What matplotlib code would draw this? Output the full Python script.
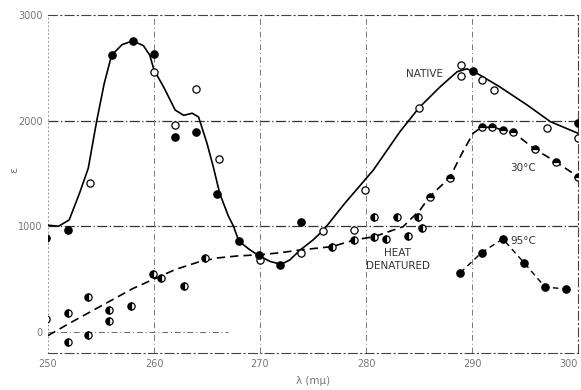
import matplotlib
matplotlib.use("Agg")
import matplotlib.pyplot as plt

# ---- data ----
native_curve_x = [250, 251, 252, 253, 253.8, 254.6, 255.3, 256, 257, 258, 259, 259.6, 260,
                  260.9, 262, 262.8, 263.6, 264.2, 265, 265.6, 266.2, 267, 267.5, 268, 269,
                  270, 271, 272, 272.8, 273.8, 275, 276, 278, 280.7, 283.2, 285, 287, 288.6,
                  289.5, 290.1, 292.6, 295.2, 297.4, 300]
native_curve_y = [1010, 1000, 1060, 1320, 1550, 2000, 2350, 2620, 2720, 2755, 2710, 2620, 2480,
                  2320, 2100, 2050, 2070, 2035, 1785, 1560, 1310, 1100, 1000, 860, 780,
                  715, 665, 640, 680, 776, 870, 965, 1217, 1533, 1895, 2122, 2321, 2463,
                  2490, 2470, 2321, 2148, 1990, 1880]

dashed_curve_x = [250, 252, 254, 256, 258, 260, 262, 264.3, 266, 268, 270, 272, 273.8, 276.8,
                  278.9, 280.8, 283.5, 285.1, 286, 287.9, 289, 290.1, 290.9, 291.9, 293.9,
                  295.9, 297.9, 300]
dashed_curve_y = [-35, 80, 190, 300, 410, 500, 590, 665, 700, 720, 730, 750, 776, 807,
                  870, 902, 996, 1154, 1280, 1460, 1680, 1880, 1937, 1937, 1889,
                  1731, 1611, 1469]

native_open_x = [254.0, 260.0, 262.0, 264.0, 266.1, 270.0, 273.9, 275.9, 279.9, 278.9,
                 285.0, 289.0, 289.0, 290.9, 292.1, 297.1, 300.0]
native_open_y = [1410, 2463, 1958, 2299, 1634, 681, 750, 955, 1343, 965,
                 2122, 2526, 2422, 2384, 2290, 1933, 1838]

native_filled_x = [249.8, 251.9, 256.0, 258.05, 260.03, 262.0, 264.0, 265.9, 268.0, 269.9,
                   271.9, 273.9, 290.1, 300.0]
native_filled_y = [886, 965, 2620, 2753, 2627, 1842, 1895, 1303, 861, 728,
                   634, 1038, 2469, 1974]

denat_x = [249.8, 251.9, 251.9, 253.8, 253.8, 255.8, 255.8, 257.8, 259.9, 260.7, 262.8,
           264.8, 276.8, 278.9, 280.8, 280.8, 281.9, 282.9, 284.0, 284.9, 285.3]
denat_y = [120, -92, 177, 328, -28, 208, 107, 246, 546, 508, 438,
           697, 807, 870, 1091, 902, 877, 1091, 911, 1091, 981]

t30_x = [286.0, 287.9, 290.9, 291.9, 292.9, 293.9, 295.9, 297.9, 300.0]
t30_y = [1280, 1460, 1942, 1937, 1911, 1889, 1731, 1611, 1469]

t95_x = [288.9, 290.9, 292.9, 294.9, 296.9, 298.9]
t95_y = [561, 750, 880, 656, 423, 407]

x_ticks = [250, 260, 270, 280, 290, 300]
y_ticks = [0, 1000, 2000, 3000]

# ---- figure ----
fig = plt.figure(figsize=(5.81, 3.90), dpi=100)
ax = fig.add_axes([48/581, 1-353/390, (578-48)/581, (353-15)/390])
ax.set_xlim(250, 300)
ax.set_ylim(-200, 3000)

# grid-like reference lines
for yv in [1000, 2000]:
    ax.axhline(yv, color="#333333", lw=0.9, ls=(0, (8, 2, 1, 2)), zorder=1)
ax.plot([250, 267], [0, 0], color="#666666", lw=0.7, ls=(0, (6, 3, 1, 3)), zorder=1)
for xv in [260, 270, 280, 290]:
    ax.axvline(xv, color="#777777", lw=0.7, ls=(0, (6, 3, 1, 3)), zorder=1)

# curves
ax.plot(native_curve_x, native_curve_y, color="black", lw=1.2, zorder=3)
ax.plot(dashed_curve_x, dashed_curve_y, color="black", lw=1.2, ls=(0, (5, 3)), zorder=3)
ax.plot(t95_x, t95_y, color="black", lw=1.0, ls=(0, (4, 3)), zorder=3)

ms = 5.2
ax.plot(native_open_x, native_open_y, ls="none", marker="o", ms=ms, mfc="white",
        mec="black", mew=0.9, zorder=4)
ax.plot(native_filled_x, native_filled_y, ls="none", marker="o", ms=ms, mfc="black",
        mec="black", zorder=4)
ax.plot(denat_x, denat_y, ls="none", marker="o", ms=ms, fillstyle="left", mfc="black",
        mfcalt="white", mec="black", mew=0.9, zorder=4)
ax.plot(t30_x, t30_y, ls="none", marker="o", ms=ms, fillstyle="top", mfc="black",
        mfcalt="white", mec="black", mew=0.9, zorder=4)
ax.plot(t95_x, t95_y, ls="none", marker="o", ms=ms, mfc="black", mec="black", zorder=4)

# labels
tc = "#333333"
ax.text(283.8, 2440, "NATIVE", fontsize=7.5, color=tc, ha="left", va="center")
ax.text(293.6, 1555, "30°C", fontsize=7.5, color=tc, ha="left", va="center")
ax.text(293.6, 860, "95°C", fontsize=7.5, color=tc, ha="left", va="center")
ax.text(283.0, 750, "HEAT", fontsize=7.5, color=tc, ha="center", va="center")
ax.text(283.0, 620, "DENATURED", fontsize=7.5, color=tc, ha="center", va="center")

# spines
for s in ["top", "bottom", "right"]:
    ax.spines[s].set_linestyle((0, (8, 3, 1, 3)))
    ax.spines[s].set_color("#444444")
    ax.spines[s].set_linewidth(0.8)
ax.spines["left"].set_linestyle((0, (1, 3)))
ax.spines["left"].set_color("#999999")
ax.spines["left"].set_linewidth(0.7)

ax.set_xticks(x_ticks)
ax.set_yticks(y_ticks)
ax.tick_params(length=0, labelsize=7, labelcolor="#777777", pad=4)
ax.get_xticklabels()[-1].set_ha("right")
ax.set_xlabel("λ (mμ)", fontsize=7.5, color="#777777", labelpad=5)
fig.text(14/581, 1-170/390, "ε", fontsize=8, color="#777777", rotation=90,
         ha="center", va="center")

fig.savefig("out.png", dpi=100)
